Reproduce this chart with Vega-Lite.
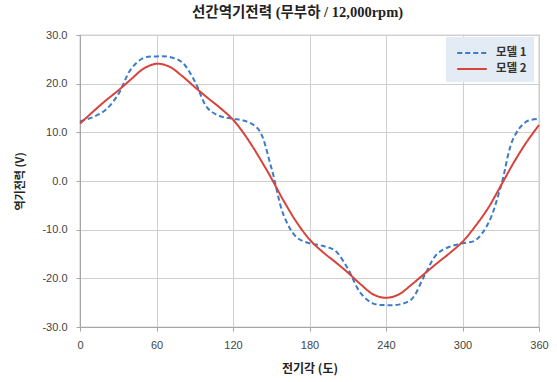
{
  "$schema": "https://vega.github.io/schema/vega-lite/v6.json",
  "autosize": {"type": "none"},
  "padding": {"left": 80, "top": 35, "right": 18, "bottom": 55},
  "width": 459,
  "height": 292,
  "background": "white",
  "config": {
    "view": {"stroke": "#a6a6a6", "strokeWidth": 1.2},
    "font": "Liberation Sans"
  },
  "title": {
    "text": "선간역기전력 (무부하 / 12,000rpm)",
    "font": "Liberation Serif, Noto Sans CJK KR",
    "fontSize": 14.5,
    "fontWeight": "bold",
    "color": "#222222",
    "anchor": "middle",
    "dx": -12,
    "offset": 9
  },
  "data": {
    "values": [
      {"angle": 0, "v": 12.3, "model": "모델 1"},
      {"angle": 10, "v": 13.1, "model": "모델 1"},
      {"angle": 20, "v": 14.6, "model": "모델 1"},
      {"angle": 30, "v": 17.8, "model": "모델 1"},
      {"angle": 40, "v": 23.0, "model": "모델 1"},
      {"angle": 50, "v": 25.3, "model": "모델 1"},
      {"angle": 60, "v": 25.6, "model": "모델 1"},
      {"angle": 70, "v": 25.5, "model": "모델 1"},
      {"angle": 80, "v": 24.4, "model": "모델 1"},
      {"angle": 90, "v": 20.5, "model": "모델 1"},
      {"angle": 100, "v": 15.0, "model": "모델 1"},
      {"angle": 110, "v": 13.3, "model": "모델 1"},
      {"angle": 120, "v": 12.8, "model": "모델 1"},
      {"angle": 130, "v": 12.3, "model": "모델 1"},
      {"angle": 140, "v": 10.6, "model": "모델 1"},
      {"angle": 150, "v": 2.8, "model": "모델 1"},
      {"angle": 160, "v": -7.2, "model": "모델 1"},
      {"angle": 170, "v": -11.6, "model": "모델 1"},
      {"angle": 180, "v": -12.8, "model": "모델 1"},
      {"angle": 190, "v": -13.3, "model": "모델 1"},
      {"angle": 200, "v": -14.3, "model": "모델 1"},
      {"angle": 210, "v": -18.0, "model": "모델 1"},
      {"angle": 220, "v": -23.0, "model": "모델 1"},
      {"angle": 230, "v": -25.2, "model": "모델 1"},
      {"angle": 240, "v": -25.5, "model": "모델 1"},
      {"angle": 250, "v": -25.4, "model": "모델 1"},
      {"angle": 260, "v": -24.3, "model": "모델 1"},
      {"angle": 270, "v": -19.5, "model": "모델 1"},
      {"angle": 280, "v": -15.0, "model": "모델 1"},
      {"angle": 290, "v": -13.5, "model": "모델 1"},
      {"angle": 300, "v": -12.8, "model": "모델 1"},
      {"angle": 310, "v": -12.2, "model": "모델 1"},
      {"angle": 320, "v": -8.8, "model": "모델 1"},
      {"angle": 330, "v": -1.2, "model": "모델 1"},
      {"angle": 340, "v": 8.8, "model": "모델 1"},
      {"angle": 350, "v": 12.2, "model": "모델 1"},
      {"angle": 360, "v": 12.8, "model": "모델 1"},
      {"angle": 0, "v": 11.8, "model": "모델 2"},
      {"angle": 10, "v": 14.2, "model": "모델 2"},
      {"angle": 20, "v": 16.5, "model": "모델 2"},
      {"angle": 30, "v": 18.6, "model": "모델 2"},
      {"angle": 40, "v": 20.9, "model": "모델 2"},
      {"angle": 50, "v": 23.1, "model": "모델 2"},
      {"angle": 60, "v": 24.1, "model": "모델 2"},
      {"angle": 70, "v": 23.5, "model": "모델 2"},
      {"angle": 80, "v": 21.6, "model": "모델 2"},
      {"angle": 90, "v": 19.3, "model": "모델 2"},
      {"angle": 100, "v": 17.1, "model": "모델 2"},
      {"angle": 110, "v": 15.0, "model": "모델 2"},
      {"angle": 120, "v": 12.6, "model": "모델 2"},
      {"angle": 130, "v": 9.2, "model": "모델 2"},
      {"angle": 140, "v": 5.1, "model": "모델 2"},
      {"angle": 150, "v": 0.6, "model": "모델 2"},
      {"angle": 160, "v": -4.2, "model": "모델 2"},
      {"angle": 170, "v": -8.5, "model": "모델 2"},
      {"angle": 180, "v": -12.0, "model": "모델 2"},
      {"angle": 190, "v": -14.5, "model": "모델 2"},
      {"angle": 200, "v": -16.6, "model": "모델 2"},
      {"angle": 210, "v": -18.8, "model": "모델 2"},
      {"angle": 220, "v": -21.2, "model": "모델 2"},
      {"angle": 230, "v": -23.3, "model": "모델 2"},
      {"angle": 240, "v": -24.0, "model": "모델 2"},
      {"angle": 250, "v": -23.3, "model": "모델 2"},
      {"angle": 260, "v": -21.3, "model": "모델 2"},
      {"angle": 270, "v": -19.1, "model": "모델 2"},
      {"angle": 280, "v": -16.9, "model": "모델 2"},
      {"angle": 290, "v": -14.8, "model": "모델 2"},
      {"angle": 300, "v": -12.5, "model": "모델 2"},
      {"angle": 310, "v": -9.3, "model": "모델 2"},
      {"angle": 320, "v": -5.6, "model": "모델 2"},
      {"angle": 330, "v": -1.0, "model": "모델 2"},
      {"angle": 340, "v": 3.7, "model": "모델 2"},
      {"angle": 350, "v": 7.9, "model": "모델 2"},
      {"angle": 360, "v": 11.5, "model": "모델 2"}
    ]
  },
  "mark": {"type": "line", "interpolate": "catmull-rom", "strokeWidth": 2},
  "encoding": {
    "x": {
      "field": "angle",
      "type": "quantitative",
      "scale": {"domain": [0, 360], "nice": false},
      "axis": {
        "values": [0, 60, 120, 180, 240, 300, 360],
        "title": "전기각 (도)",
        "titleFont": "Noto Sans CJK KR",
        "titleFontSize": 12,
        "titleFontWeight": "bold",
        "titleColor": "#222222",
        "titlePadding": 13,
        "labelFontSize": 11,
        "labelColor": "#444444",
        "labelPadding": 8,
        "tickSize": 4,
        "tickColor": "#a6a6a6",
        "domainColor": "#a6a6a6",
        "gridColor": "#cfcfcf",
        "labelFlush": false
      }
    },
    "y": {
      "field": "v",
      "type": "quantitative",
      "scale": {"domain": [-30, 30], "nice": false},
      "axis": {
        "values": [-30, -20, -10, 0, 10, 20, 30],
        "labelExpr": "replace(format(datum.value, '.1f'), '\u2212', '-')",
        "title": "역기전력 (V)",
        "titleFont": "Noto Sans CJK KR",
        "titleFontSize": 11,
        "titleFontWeight": "bold",
        "titleColor": "#222222",
        "titlePadding": 16,
        "labelFontSize": 11,
        "labelColor": "#444444",
        "labelPadding": 9,
        "tickSize": 4,
        "tickColor": "#a6a6a6",
        "domainColor": "#a6a6a6",
        "gridColor": "#cfcfcf"
      }
    },
    "color": {
      "field": "model",
      "type": "nominal",
      "scale": {"domain": ["모델 1", "모델 2"], "range": ["#3a7cc8", "#d8423a"]},
      "legend": {
        "title": null,
        "orient": "none",
        "legendX": 366,
        "legendY": 2,
        "fillColor": "#e3ebf4",
        "padding": 7,
        "symbolType": "M-0.6,0H3.1",
        "symbolSize": 256,
        "symbolStrokeWidth": 2,
        "labelFont": "Noto Sans CJK KR",
        "labelFontSize": 11.5,
        "labelFontWeight": "bold",
        "labelColor": "#333333",
        "labelOffset": 25,
        "rowPadding": 1
      }
    },
    "strokeDash": {
      "field": "model",
      "type": "nominal",
      "scale": {"domain": ["모델 1", "모델 2"], "range": [[5, 3], [1, 0]]},
      "legend": {
        "title": null,
        "orient": "none",
        "legendX": 366,
        "legendY": 2,
        "fillColor": "#e3ebf4",
        "padding": 7,
        "symbolType": "M-0.6,0H3.1",
        "symbolSize": 256,
        "symbolStrokeWidth": 2,
        "labelFont": "Noto Sans CJK KR",
        "labelFontSize": 11.5,
        "labelFontWeight": "bold",
        "labelColor": "#333333",
        "labelOffset": 25,
        "rowPadding": 1
      }
    }
  }
}
